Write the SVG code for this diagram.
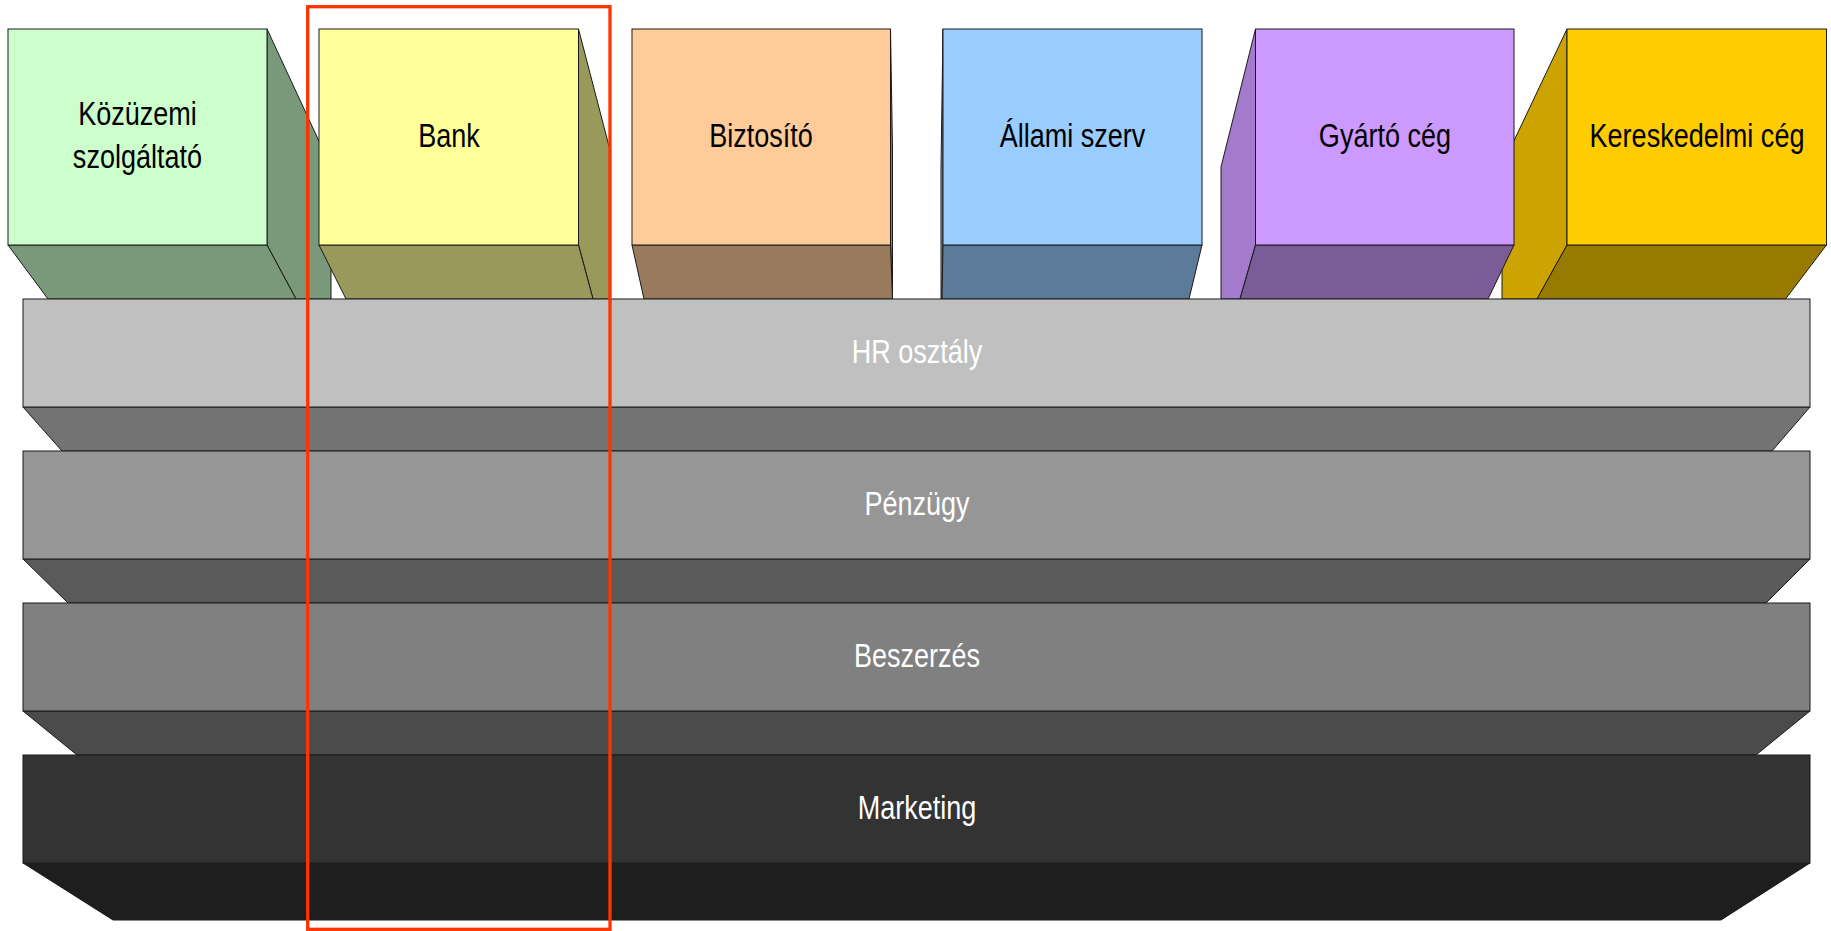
<svg xmlns="http://www.w3.org/2000/svg" width="1831" height="931" viewBox="0 0 1831 931">
<style>
  .e { stroke: #1a1a1a; stroke-width: 1; stroke-linejoin: miter; }
  .t { font-family: "Liberation Sans", Arial, sans-serif; font-size: 33px; text-anchor: middle; }
  .dk { fill: #000000; }
  .wt { fill: #ffffff; }
</style>
<rect x="0" y="0" width="1831" height="931" fill="#ffffff"/>

<g id="node-kozuzemi">
  <polygon class="e" fill="#7A997A" points="267,29 331,167 331,299 296,299 267,245"/>
  <polygon class="e" fill="#7A997A" points="8,245 267,245 296,299 48,299"/>
  <rect class="e" fill="#CCFFCC" x="8" y="29" width="259" height="216"/>
  <text class="t dk" transform="translate(137.5,125) scale(0.82,1)">Közüzemi</text>
  <text class="t dk" transform="translate(137.5,168) scale(0.82,1)">szolgáltató</text>
</g>

<g id="node-bank">
  <polygon class="e" fill="#99995C" points="578.5,29 610,150 610,299 593,299 578.5,245"/>
  <polygon class="e" fill="#99995C" points="319,245 578.5,245 593,299 346,299"/>
  <rect class="e" fill="#FFFF99" x="319" y="29" width="259.5" height="216"/>
  <text class="t dk" transform="translate(449,146.7) scale(0.82,1)">Bank</text>
</g>

<g id="node-biztosito">
  <polygon class="e" fill="#997A5C" points="890.5,29 892.5,150 892.5,299 890.5,245"/>
  <polygon class="e" fill="#997A5C" points="632,245 890.5,245 892.5,299 644,299"/>
  <rect class="e" fill="#FFCC99" x="632" y="29" width="258.5" height="216"/>
  <text class="t dk" transform="translate(761,146.7) scale(0.82,1)">Biztosító</text>
</g>

<g id="node-allami">
  <polygon class="e" fill="#7AA3CC" points="943,29 941,167 941,299 942,299 943,245"/>
  <polygon class="e" fill="#5C7A99" points="943,245 1202,245 1189,299 942,299"/>
  <rect class="e" fill="#99CCFF" x="943" y="29" width="259" height="216"/>
  <text class="t dk" transform="translate(1072.5,146.7) scale(0.82,1)">Állami szerv</text>
</g>

<g id="node-kereskedelmi">
  <polygon class="e" fill="#CCA300" points="1567,29 1502,166 1502,299 1537,299 1567,245"/>
  <polygon class="e" fill="#997A00" points="1567,245 1826.5,245 1785.5,299 1537,299"/>
  <rect class="e" fill="#FFCC00" x="1567" y="29" width="259.5" height="216"/>
  <text class="t dk" transform="translate(1697,146.7) scale(0.82,1)">Kereskedelmi cég</text>
</g>

<g id="node-gyarto">
  <polygon class="e" fill="#A37ACC" points="1255.5,29 1221,167 1221,299 1240,299 1255.5,245"/>
  <polygon class="e" fill="#7A5C99" points="1255.5,245 1514,245 1488,299 1240,299"/>
  <rect class="e" fill="#CC99FF" x="1255.5" y="29" width="258.5" height="216"/>
  <text class="t dk" transform="translate(1385,146.7) scale(0.82,1)">Gyártó cég</text>
</g>

<g id="node-hr">
  <polygon class="e" fill="#737373" points="23,407 1810,407 1772,451 62,451"/>
  <rect class="e" fill="#C0C0C0" x="23" y="299" width="1787" height="108"/>
  <text class="t wt" transform="translate(917,363.3) scale(0.82,1)">HR osztály</text>
</g>

<g id="node-penzugy">
  <polygon class="e" fill="#5A5A5A" points="23,559 1810,559 1766,603 68,603"/>
  <rect class="e" fill="#969696" x="23" y="451" width="1787" height="108"/>
  <text class="t wt" transform="translate(917,515.3) scale(0.82,1)">Pénzügy</text>
</g>

<g id="node-beszerzes">
  <polygon class="e" fill="#4B4B4B" points="23,711 1810,711 1756,755 77,755"/>
  <rect class="e" fill="#808080" x="23" y="603" width="1787" height="108"/>
  <text class="t wt" transform="translate(917,667.3) scale(0.82,1)">Beszerzés</text>
</g>

<g id="node-marketing">
  <polygon class="e" fill="#1E1E1E" points="23,863 1810,863 1721,920 113,920"/>
  <rect class="e" fill="#333333" x="23" y="755" width="1787" height="108"/>
  <text class="t wt" transform="translate(917,819.3) scale(0.82,1)">Marketing</text>
</g>

<g id="highlight-bank">
  <rect x="307.7" y="6.7" width="302.3" height="922.6" fill="none" stroke="#FF3300" stroke-width="3.3"/>
</g>
</svg>
